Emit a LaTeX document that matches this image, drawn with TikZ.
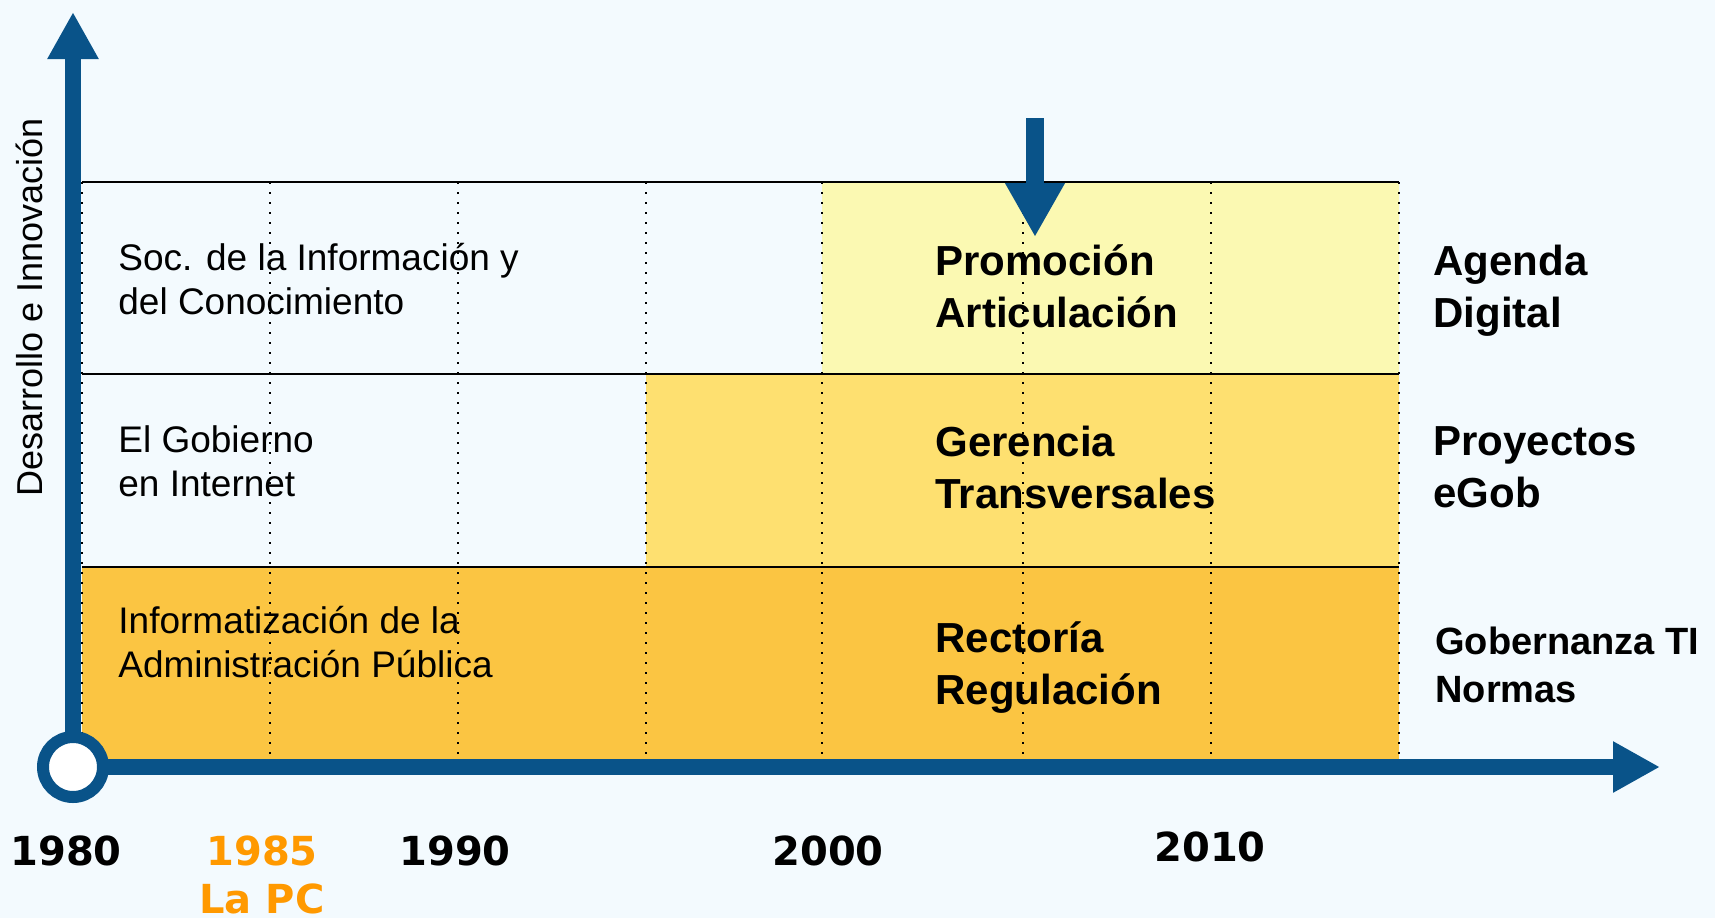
\documentclass[tikz,border=0pt]{standalone}
\usepackage{fontspec}
\setmainfont{Liberation Sans}
\newfontfamily\yearfont{DejaVu Sans}
\usetikzlibrary{arrows.meta}
\definecolor{bg}{RGB}{243,250,254}
\definecolor{axisblue}{RGB}{9,83,137}
\definecolor{rowA}{RGB}{251,249,178}
\definecolor{rowB}{RGB}{254,224,112}
\definecolor{rowC}{RGB}{251,197,66}
\definecolor{pcorange}{RGB}{255,153,0}
\begin{document}
\begin{tikzpicture}[x=0.5pt,y=-0.5pt,
  rowlabel/.style={anchor=north west, inner sep=0pt, align=left, font=\fontsize{18.5}{22}\selectfont},
  keylabel/.style={anchor=north west, inner sep=0pt, align=left, font=\bfseries\fontsize{21}{26}\selectfont},
  yearlabel/.style={anchor=north, inner sep=0pt, align=center, font=\yearfont\bfseries\fontsize{20}{24}\selectfont},
  axisline/.style={line width=8pt, draw=axisblue, -{Triangle[width=24pt,length=23.5pt]}},
  gridline/.style={black, line width=1.1pt, dash pattern=on 1.1pt off 3.9pt},
  rowline/.style={black, line width=1pt}]
\useasboundingbox (0,0) rectangle (1715,918);
\fill[bg] (0,0) rectangle (1715,918);
% row fills
\fill[rowC] (82,567) rectangle (1399,759);
\fill[rowB] (646,374) rectangle (1399,567);
\fill[rowA] (822,182) rectangle (1399,374);
% dotted year lines
\foreach \xx in {82,270,458,646,822,1023,1211,1399}
  \draw[gridline] (\xx,182) -- (\xx,759);
% row separators
\foreach \yy in {182,374,567}
  \draw[rowline] (82,\yy) -- (1399,\yy);
% row labels
\node[rowlabel] (soc) at (118,243) {Soc. de la Información y\\del Conocimiento};
\node[rowlabel] (gob) at (118,425.5) {El Gobierno\\en Internet};
\node[rowlabel] (inf) at (118,606) {Informatización de la\\Administración Pública};
\node[keylabel] (prom) at (935,244) {Promoción\\Articulación};
\node[keylabel] (ger) at (935,425.5) {Gerencia\\Transversales};
\node[keylabel] (rect) at (935,621.5) {Rectoría\\Regulación};
\node[keylabel] (agenda) at (1433,245) {Agenda\\Digital};
\node[keylabel] (proy) at (1433,426) {Proyectos\\eGob};
\node[keylabel, font=\bfseries\fontsize{19}{24}\selectfont] (gobz) at (1435,627) {Gobernanza TI\\Normas};
% years
\node[yearlabel] (y1980) at (66,835) {1980};
\node[yearlabel, text=pcorange] (y1985) at (262,835) {1985\\La PC};
\node[yearlabel] (y1990) at (455,835) {1990};
\node[yearlabel] (y2000) at (828,835) {2000};
\node[yearlabel] (y2010) at (1210,831) {2010};
% vertical axis label
\node[rotate=90, inner sep=0pt, font=\fontsize{18}{22}\selectfont] (ylab) at (29.5,307) {Desarrollo e Innovación};
% axes
\coordinate (o) at (73,767);
\coordinate (ytip) at (73,12);
\coordinate (xtip) at (1660,767);
\draw[axisline] (o) -- (ytip);
\draw[axisline] (o) -- (xtip);
\node[circle, draw=axisblue, line width=6pt, fill=white, minimum size=30pt, inner sep=0pt] (origin) at (o) {};
% down arrow
\coordinate (dtop) at (1035,118);
\coordinate (dtip) at (1035,237);
\draw[line width=9pt, axisblue, -{Triangle[width=28pt,length=27pt]}] (dtop) -- (dtip);
\end{tikzpicture}
\end{document}
